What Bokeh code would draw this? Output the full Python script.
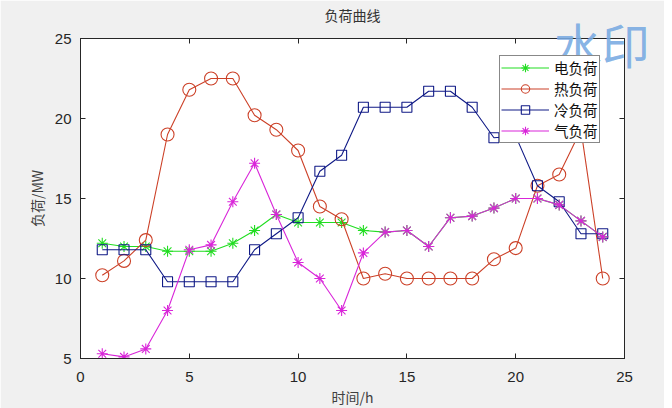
from bokeh.plotting import figure
from bokeh.models import (Range1d, LinearAxis, Legend, LegendItem, FixedTicker,
                          CustomLabelingPolicy)
from bokeh.core.properties import value
from bokeh.embed import file_html
from bokeh.resources import INLINE

hours = list(range(1, 25))
elec = [12.2, 12.0, 12.0, 11.7, 11.7, 11.7, 12.2, 13.0, 14.0, 13.5, 13.5, 13.5,
        13.0, 12.9, 13.0, 12.0, 13.8, 13.9, 14.4, 15.0, 15.0, 14.6, 13.6, 12.6]
heat = [10.2, 11.1, 12.4, 19.0, 21.8, 22.5, 22.5, 20.2, 19.3, 18.0, 14.5, 13.7,
        10.0, 10.3, 10.0, 10.0, 10.0, 10.0, 11.2, 11.9, 15.8, 16.5, 19.3, 10.0]
cold = [11.8, 11.8, 11.8, 9.8, 9.8, 9.8, 9.8, 11.8, 12.8, 13.8, 16.7, 17.7,
        20.7, 20.7, 20.7, 21.7, 21.7, 20.7, 18.8, 18.9, 15.8, 14.8, 12.8, 12.8]
gas = [5.3, 5.1, 5.6, 8.0, 11.8, 12.1, 14.8, 17.2, 14.0, 11.0, 10.0, 8.0,
       11.6, 12.9, 13.0, 12.0, 13.8, 13.9, 14.4, 15.0, 15.0, 14.6, 13.6, 12.6]
series_names = ["电负荷", "热负荷", "冷负荷", "气负荷"]
x_ticks = [0, 5, 10, 15, 20, 25]
y_ticks = [5, 10, 15, 20, 25]
watermark = "水印"

FONT = "Liberation Sans"
CJK = "Noto Sans CJK SC"

p = figure(frame_width=544, frame_height=320, output_backend="svg", toolbar_location=None,
           x_range=Range1d(0, 25), y_range=Range1d(5, 25),
           min_border_left=80, min_border_right=40, min_border_top=37, min_border_bottom=46)
p.background_fill_color = "white"
p.border_fill_color = "#f0f0f0"
p.outline_line_color = "#262626"
p.xgrid.visible = False
p.ygrid.visible = False

p.title.text = "负荷曲线"
p.title.align = "center"
p.title.text_font = CJK
p.title.text_font_style = "normal"
p.title.text_font_size = "14px"
p.title.text_color = "#333333"
p.title.offset = 0
p.title.standoff = 5

for ax in (p.xaxis[0], p.yaxis[0]):
    ax.major_tick_in = 5
    ax.major_tick_out = 0
    ax.minor_tick_line_color = None
    ax.major_label_text_font = FONT
    ax.major_label_text_font_size = "15px"
    ax.major_label_text_color = "#262626"
    ax.axis_line_color = "#262626"
    ax.major_tick_line_color = "#262626"
    ax.axis_label_text_font = CJK
    ax.axis_label_text_font_style = "normal"
    ax.axis_label_text_font_size = "14px"
    ax.axis_label_text_color = "#404040"
p.xaxis[0].ticker = FixedTicker(ticks=x_ticks)
p.yaxis[0].ticker = FixedTicker(ticks=y_ticks)
p.xaxis[0].axis_label = "时间/h"
p.yaxis[0].axis_label = "负荷/MW"
p.xaxis[0].major_label_standoff = 13
p.yaxis[0].major_label_standoff = 9
p.xaxis[0].axis_label_standoff = 2
p.yaxis[0].axis_label_standoff = 5

no_labels = "const n = indices.size; for (let i = 0; i < n; i++) { indices.unset(i) } return indices"
top_ax = LinearAxis(ticker=FixedTicker(ticks=x_ticks),
                    major_label_policy=CustomLabelingPolicy(code=no_labels),
                    major_label_standoff=0, axis_label_standoff=0,
                    major_tick_in=5, major_tick_out=0, minor_tick_line_color=None,
                    axis_line_color="#262626", major_tick_line_color="#262626")
right_ax = LinearAxis(ticker=FixedTicker(ticks=y_ticks),
                      major_label_policy=CustomLabelingPolicy(code=no_labels),
                      major_label_standoff=0, axis_label_standoff=0,
                      major_tick_in=5, major_tick_out=0, minor_tick_line_color=None,
                      axis_line_color="#262626", major_tick_line_color="#262626")
p.add_layout(top_ax, "above")
p.add_layout(right_ax, "right")

colors = ["#22dd22", "#cc4128", "#101a86", "#d926d9"]
markers = ["asterisk", "circle", "square", "asterisk"]
sizes = [11, 13, 10, 11]
data = [elec, heat, cold, gas]
items = []
for name, ys, c, m, s in zip(series_names, data, colors, markers, sizes):
    r1 = p.line(hours, ys, line_color=c, line_width=1.1)
    r2 = p.scatter(hours, ys, marker=m, size=s, line_color=c, fill_color=None, line_width=1.1)
    items.append(LegendItem(label=name, renderers=[r1, r2]))

legend = Legend(items=items, location=(419, 215))
legend.label_text_font = CJK
legend.label_text_font_size = "14.5px"
legend.label_text_color = "#111111"
legend.border_line_color = "#111111"
legend.border_line_width = 1
legend.background_fill_color = "white"
legend.background_fill_alpha = 1
legend.glyph_width = 48
legend.glyph_height = 21
legend.label_height = 21
legend.spacing = 0
legend.padding = 1
legend.margin = 0
legend.label_standoff = 5
p.add_layout(legend)

# watermark overlay (unclipped glyph at overlay level), placed at the top-right corner
wm = p.text(x=[23.95], y=[24.75], text=[watermark], text_align="center", text_baseline="middle",
            text_font=value(CJK), text_font_size="48px", text_color="#78aae2",
            text_alpha=0.9, level="overlay")

open("out.html", "w").write(file_html(p, INLINE))
